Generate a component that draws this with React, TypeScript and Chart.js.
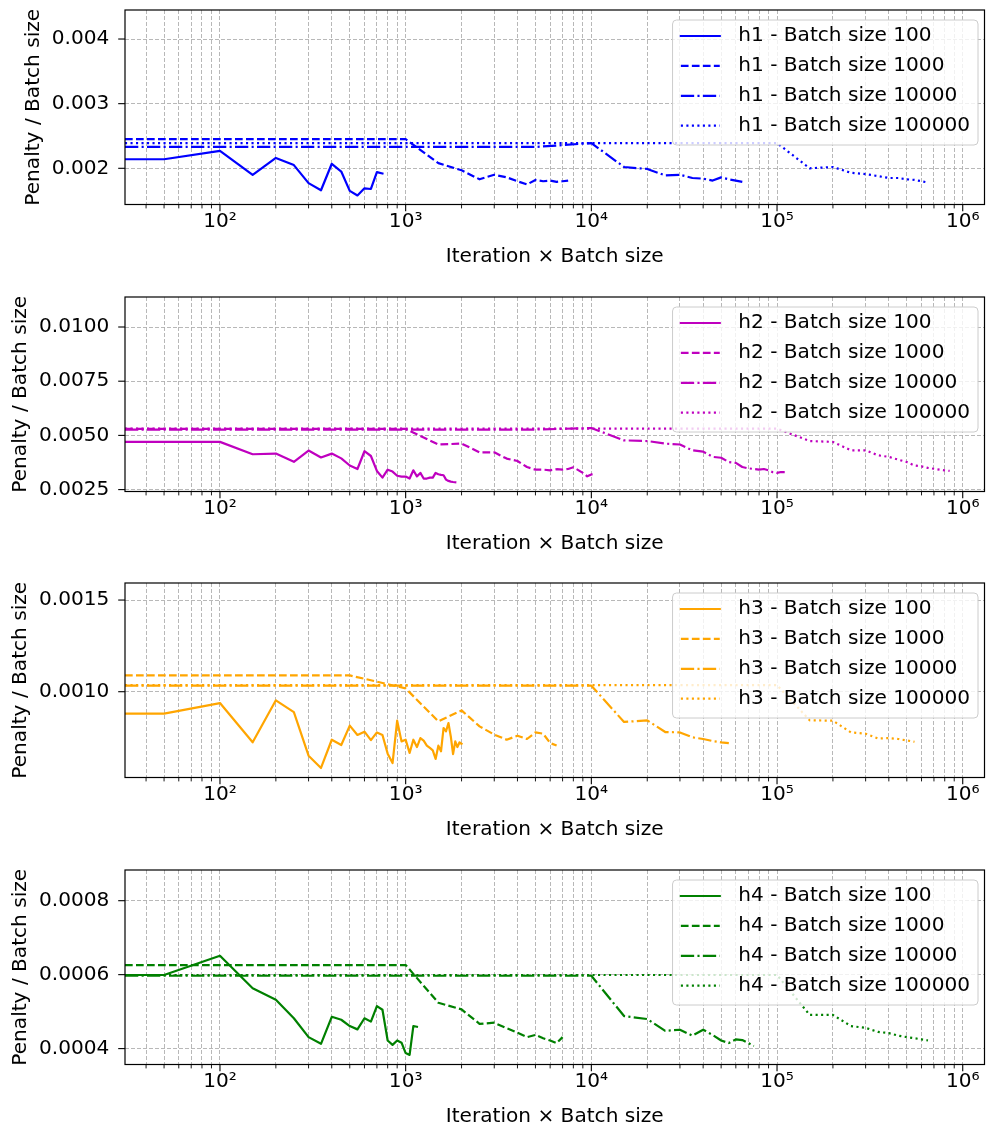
import React, { useEffect, useRef } from 'react';
import { Chart, registerables } from 'chart.js';

Chart.register(...registerables);

// ---------- data ----------
// x values: iteration × batch size (0 = start, mapped to the left edge of the log axis)
const X_BS100 = [0, 50, 100, 150, 200, 250, 300, 350, 400, 450, 500, 550, 600, 650, 700, 750, 800, 850, 900, 950, 1000,
  1050, 1100, 1150, 1200, 1250, 1300, 1350, 1400, 1450, 1500, 1550, 1600, 1650, 1700, 1750, 1800, 1850, 1900, 1950, 2000];
const X_BS1000 = [0, 500, 1000, 1500, 2000, 2500, 3000, 3500, 4000, 4500, 5000, 5500, 6000, 6500, 7000, 7500, 8000, 8500,
  9000, 9500, 10000, 10500];
const X_BS10000 = [0, 5000, 10000, 15000, 20000, 25000, 30000, 35000, 40000, 45000, 50000, 55000, 60000, 65000, 70000,
  75000, 80000, 85000, 90000, 95000, 100000, 105000, 110000];
const X_BS100000 = [0, 50000, 100000, 150000, 200000, 250000, 300000, 350000, 400000, 450000, 500000, 550000, 600000,
  650000, 700000, 750000, 800000, 850000];

const H1_BS100 = [0.00214, 0.00214, 0.00227, 0.00190, 0.00216, 0.00205, 0.00177, 0.00166, 0.00207, 0.00195, 0.00165,
  0.00158, 0.00169, 0.00168, 0.00194, 0.00192];
const H1_BS1000 = [0.00245, 0.00245, 0.00245, 0.00208, 0.00197, 0.00183, 0.00190, 0.00186, 0.00180, 0.00175, 0.00182,
  0.00180, 0.00181, 0.00179, 0.00180, 0.00181];
const H1_BS10000 = [0.00233, 0.00233, 0.00239, 0.00202, 0.00199, 0.00189, 0.00190, 0.00185, 0.00184, 0.00181, 0.00186,
  0.00183, 0.00181, 0.00179];
const H1_BS100000 = [0.00239, 0.00239, 0.00239, 0.00200, 0.00202, 0.00193, 0.00191, 0.00188, 0.00185, 0.00185, 0.00183,
  0.00182, 0.00180, 0.00178];

const H2_BS100 = [0.00470, 0.00470, 0.00470, 0.00413, 0.00416, 0.00378, 0.00430, 0.00398, 0.00416, 0.00394, 0.00361,
  0.00345, 0.00427, 0.00405, 0.00336, 0.00305, 0.00342, 0.00333, 0.00314, 0.00310, 0.00310, 0.00301, 0.00339, 0.00311,
  0.00327, 0.00301, 0.00301, 0.00305, 0.00305, 0.00327, 0.00321, 0.00318, 0.00316, 0.00296, 0.00290, 0.00287, 0.00285,
  0.00284];
const H2_BS1000 = [0.00530, 0.00530, 0.00530, 0.00458, 0.00462, 0.00422, 0.00422, 0.00393, 0.00382, 0.00354, 0.00342,
  0.00342, 0.00339, 0.00344, 0.00342, 0.00345, 0.00353, 0.00340, 0.00327, 0.00311, 0.00320, 0.00325];
const H2_BS10000 = [0.00527, 0.00527, 0.00534, 0.00477, 0.00474, 0.00462, 0.00458, 0.00431, 0.00425, 0.00401, 0.00397,
  0.00377, 0.00373, 0.00354, 0.00348, 0.00345, 0.00342, 0.00345, 0.00339, 0.00330, 0.00327, 0.00331, 0.00331];
const H2_BS100000 = [0.00531, 0.00531, 0.00531, 0.00474, 0.00470, 0.00431, 0.00431, 0.00408, 0.00401, 0.00388, 0.00377,
  0.00361, 0.00357, 0.00350, 0.00346, 0.00342, 0.00339, 0.00336];

const H3_BS100 = [0.000880, 0.000880, 0.000938, 0.000724, 0.000953, 0.000889, 0.000651, 0.000584, 0.000738, 0.000709,
  0.000815, 0.000764, 0.000782, 0.000736, 0.000778, 0.000764, 0.000662, 0.000611, 0.000842, 0.000729, 0.000738,
  0.000666, 0.000738, 0.000698, 0.000747, 0.000733, 0.000706, 0.000693, 0.000680, 0.000633, 0.000706, 0.000675,
  0.000802, 0.000784, 0.000829, 0.000756, 0.000660, 0.000729, 0.000698, 0.000724, 0.000716];
const H3_BS1000 = [0.001089, 0.001089, 0.001018, 0.000838, 0.000898, 0.000811, 0.000766, 0.000738, 0.000760, 0.000742,
  0.000778, 0.000771, 0.000720, 0.000706];
const H3_BS10000 = [0.001033, 0.001033, 0.001033, 0.000835, 0.000844, 0.000780, 0.000778, 0.000751, 0.000742, 0.000731,
  0.000724, 0.000720];
const H3_BS100000 = [0.001036, 0.001036, 0.001036, 0.000844, 0.000842, 0.000778, 0.000771, 0.000745, 0.000747, 0.000742,
  0.000734, 0.000727];

const H4_BS100 = [0.000599, 0.000599, 0.000651, 0.000563, 0.000532, 0.000482, 0.000431, 0.000413, 0.000486, 0.000478,
  0.000461, 0.000452, 0.000482, 0.000473, 0.000515, 0.000505, 0.000422, 0.000410, 0.000422, 0.000416, 0.000388,
  0.000383, 0.000461, 0.000459];
const H4_BS1000 = [0.000626, 0.000626, 0.000626, 0.000524, 0.000506, 0.000467, 0.000470, 0.000455, 0.000443, 0.000431,
  0.000437, 0.000428, 0.000422, 0.000415, 0.000431];
const H4_BS10000 = [0.000597, 0.000597, 0.000597, 0.000488, 0.000480, 0.000448, 0.000451, 0.000435, 0.000451, 0.000437,
  0.000422, 0.000415, 0.000425, 0.000423, 0.000415, 0.000407];
const H4_BS100000 = [0.000599, 0.000599, 0.000599, 0.000491, 0.000491, 0.000461, 0.000456, 0.000445, 0.000442, 0.000435,
  0.000431, 0.000428, 0.000425, 0.000422];

const BATCH_SIZES = ['100', '1000', '10000', '100000'];
const X_LISTS = [X_BS100, X_BS1000, X_BS10000, X_BS100000];

const X_TICKS = [40, 50, 60, 70, 80, 90, 100, 200, 300, 400, 500, 600, 700, 800, 900, 1000, 2000, 3000, 4000, 5000, 6000,
  7000, 8000, 9000, 10000, 20000, 30000, 40000, 50000, 60000, 70000, 80000, 90000, 100000, 200000, 300000, 400000,
  500000, 600000, 700000, 800000, 900000, 1000000];
const SUPERSCRIPT: Record<string, string> = { '2': '²', '3': '³', '4': '⁴', '5': '⁵', '6': '⁶' };

const Y_TICKS_H1 = [0.002, 0.003, 0.004];
const Y_TICKS_H2 = [0.0025, 0.005, 0.0075, 0.01];
const Y_TICKS_H3 = [0.001, 0.0015];
const Y_TICKS_H4 = [0.0004, 0.0006, 0.0008];

const X_TITLE = 'Iteration × Batch size';
const Y_TITLE = 'Penalty / Batch size';

// ---------- style ----------
const FONT_FAMILY = '"DejaVu Sans", "Liberation Sans", sans-serif';
const FS = 20.1;
const LW = 2.2;
const DASHES = [[], [7.7, 3.3], [13.3, 3.3, 2.1, 3.3], [2.1, 3.4]];
const CANVAS_W = 986;
const CANVAS_H = 270;
const X_MIN = 30.8;
const X_MAX = 1.31e6;

type Panel = {
  name: string;
  color: string;
  ys: number[][];
  yMin: number;
  yMax: number;
  yTicks: number[];
  yDecimals: number;
  yTitleX: number;
  top: number;
};

const PANELS: Panel[] = [
  { name: 'h1', color: '#0000ff', ys: [H1_BS100, H1_BS1000, H1_BS10000, H1_BS100000], yMin: 0.00144, yMax: 0.004449,
    yTicks: Y_TICKS_H1, yDecimals: 3, yTitleX: 33.3, top: 0 },
  { name: 'h2', color: '#bf00bf', ys: [H2_BS100, H2_BS1000, H2_BS10000, H2_BS100000], yMin: 0.002412, yMax: 0.011384,
    yTicks: Y_TICKS_H2, yDecimals: 4, yTitleX: 20.5, top: 287 },
  { name: 'h3', color: '#ffa500', ys: [H3_BS100, H3_BS1000, H3_BS10000, H3_BS100000], yMin: 0.000532, yMax: 0.001593,
    yTicks: Y_TICKS_H3, yDecimals: 4, yTitleX: 20.5, top: 573 },
  { name: 'h4', color: '#008000', ys: [H4_BS100, H4_BS1000, H4_BS10000, H4_BS100000], yMin: 0.000357, yMax: 0.000883,
    yTicks: Y_TICKS_H4, yDecimals: 4, yTitleX: 20.5, top: 860 },
];

const isPow10 = (v: number) => {
  const e = Math.log10(v);
  return Math.abs(e - Math.round(e)) < 1e-9;
};

function makeDecoPlugin() {
  return {
    id: 'mplDeco',
    afterDatasetsDraw(chart: any) {
      const { ctx, chartArea: a, scales } = chart;
      const xs = scales.x;
      const ys = scales.y;
      ctx.save();
      ctx.setLineDash([]);
      ctx.strokeStyle = '#000';
      xs.ticks.forEach((t: any) => {
        const p = xs.getPixelForValue(t.value);
        const major = isPow10(t.value);
        ctx.lineWidth = major ? 1.1 : 0.9;
        ctx.beginPath();
        ctx.moveTo(p, a.bottom);
        ctx.lineTo(p, a.bottom + (major ? 6.8 : 3.9));
        ctx.stroke();
      });
      ys.ticks.forEach((t: any) => {
        const p = ys.getPixelForValue(t.value);
        ctx.lineWidth = 1.1;
        ctx.beginPath();
        ctx.moveTo(a.left, p);
        ctx.lineTo(a.left - 6.8, p);
        ctx.stroke();
      });
      ctx.lineWidth = 1.2;
      ctx.strokeRect(a.left, a.top, a.right - a.left, a.bottom - a.top);
      ctx.restore();
    },
    afterDraw(chart: any) {
      const { ctx, chartArea: a } = chart;
      const dsets = chart.data.datasets;
      ctx.save();
      ctx.font = `${FS}px ${FONT_FAMILY}`;
      let tw = 0;
      dsets.forEach((d: any) => { tw = Math.max(tw, ctx.measureText(d.label).width); });
      const right = a.right - 6.5;
      const width = 65.7 + tw + 8;
      const left = right - width;
      const top = a.top + 10;
      const rowH = 29.9;
      const height = 16 + rowH * (dsets.length - 1) + 19.3;
      const r = 4;
      ctx.beginPath();
      ctx.moveTo(left + r, top);
      ctx.lineTo(right - r, top);
      ctx.arcTo(right, top, right, top + r, r);
      ctx.lineTo(right, top + height - r);
      ctx.arcTo(right, top + height, right - r, top + height, r);
      ctx.lineTo(left + r, top + height);
      ctx.arcTo(left, top + height, left, top + height - r, r);
      ctx.lineTo(left, top + r);
      ctx.arcTo(left, top, left + r, top, r);
      ctx.closePath();
      ctx.fillStyle = 'rgba(255,255,255,0.8)';
      ctx.fill();
      ctx.lineWidth = 1;
      ctx.strokeStyle = '#cccccc';
      ctx.setLineDash([]);
      ctx.stroke();
      dsets.forEach((d: any, i: number) => {
        const cy = top + 16 + rowH * i;
        ctx.strokeStyle = d.borderColor;
        ctx.lineWidth = LW;
        ctx.lineCap = d.borderDash.length ? 'butt' : 'square';
        ctx.setLineDash(d.borderDash);
        ctx.beginPath();
        ctx.moveTo(left + 8.3, cy);
        ctx.lineTo(left + 47.2, cy);
        ctx.stroke();
        ctx.setLineDash([]);
        ctx.fillStyle = '#000';
        ctx.textBaseline = 'middle';
        ctx.textAlign = 'left';
        ctx.fillText(d.label, left + 65.7, cy);
      });
      ctx.restore();
    },
  };
}

function PanelChart({ panel }: { panel: Panel }) {
  const ref = useRef<HTMLCanvasElement>(null);
  useEffect(() => {
    const font = { family: FONT_FAMILY, size: FS };
    const datasets = panel.ys.map((ys, k) => ({
      label: `${panel.name} - Batch size ${BATCH_SIZES[k]}`,
      data: ys.map((y, i) => ({ x: X_LISTS[k][i], y })),
      borderColor: panel.color,
      backgroundColor: panel.color,
      borderWidth: LW,
      borderDash: DASHES[k],
      borderCapStyle: k === 0 ? 'square' : 'butt',
      borderJoinStyle: 'round',
      pointRadius: 0,
      tension: 0,
      fill: false,
      order: 3 - k,
    }));
    const chart = new Chart(ref.current as HTMLCanvasElement, {
      type: 'line',
      data: { datasets } as any,
      plugins: [makeDecoPlugin() as any],
      options: {
        responsive: false,
        maintainAspectRatio: false,
        animation: false,
        devicePixelRatio: 1,
        layout: { padding: { top: 10, right: 1.5, left: 0, bottom: 0 } },
        plugins: { legend: { display: false }, tooltip: { enabled: false } },
        events: [],
        scales: {
          x: {
            type: 'logarithmic',
            min: X_MIN,
            max: X_MAX,
            afterBuildTicks: (s: any) => {
              s.ticks = X_TICKS.map((v) => ({ value: v, major: isPow10(v) }));
            },
            afterFit: (s: any) => {
              s.height = CANVAS_H - 10 - 194.5;
              s.paddingLeft = 0; s.paddingRight = 0; s.paddingTop = 0; s.paddingBottom = 0;
            },
            ticks: {
              autoSkip: false,
              maxRotation: 0,
              minRotation: 0,
              padding: 5.2,
              color: '#000',
              font,
              callback: (v: any) => {
                const n = Number(v);
                if (!isPow10(n)) return '';
                const e = String(Math.round(Math.log10(n)));
                return '10' + (SUPERSCRIPT[e] || e);
              },
            },
            grid: { display: true, drawTicks: false, color: '#b0b0b0', lineWidth: 0.9 },
            border: { display: false, dash: [4, 2] },
            title: { display: true, text: X_TITLE, color: '#000', font, padding: { top: 0, bottom: CANVAS_H - 256.5 - FS * 0.6 } },
          },
          y: {
            type: 'linear',
            min: panel.yMin,
            max: panel.yMax,
            afterBuildTicks: (s: any) => {
              s.ticks = panel.yTicks.map((v) => ({ value: v }));
            },
            afterFit: (s: any) => {
              s.width = 125;
              s.paddingLeft = 0; s.paddingRight = 0; s.paddingTop = 0; s.paddingBottom = 0;
            },
            ticks: {
              autoSkip: false,
              padding: 15.7,
              color: '#000',
              font,
              callback: (v: any) => Number(v).toFixed(panel.yDecimals),
            },
            grid: { display: true, drawTicks: false, color: '#b0b0b0', lineWidth: 0.9 },
            border: { display: false, dash: [4, 2] },
            title: { display: true, text: Y_TITLE, color: '#000', font, padding: { top: panel.yTitleX - FS * 0.6, bottom: 0 } },
          },
        },
      } as any,
    });
    return () => chart.destroy();
  }, [panel]);
  return (
    <canvas
      ref={ref}
      width={CANVAS_W}
      height={CANVAS_H}
      style={{ position: 'absolute', left: 0, top: panel.top, width: CANVAS_W, height: CANVAS_H, display: 'block' }}
    />
  );
}

export default function App() {
  return (
    <div style={{ position: 'absolute', left: 0, top: 0, width: CANVAS_W, height: 1124, background: '#fff', overflow: 'hidden' }}>
      {PANELS.map((p) => (
        <PanelChart key={p.name} panel={p} />
      ))}
    </div>
  );
}
